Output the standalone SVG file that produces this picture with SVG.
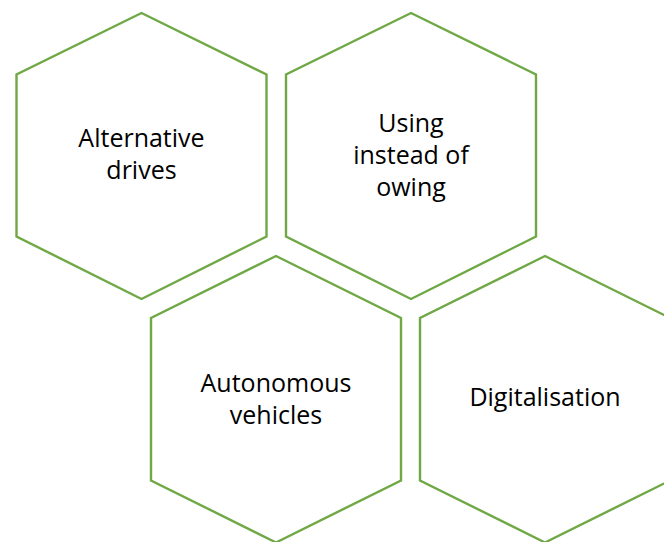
<svg xmlns="http://www.w3.org/2000/svg" width="664" height="542" viewBox="0 0 664 542">
<style>
.hex{fill:#ffffff;stroke:#6FA845;stroke-width:2.4;stroke-linejoin:miter}
.lbl{font-family:"Open Sans","Liberation Sans",sans-serif;font-size:25px;fill:#000000;text-anchor:middle}
</style>
<rect width="664" height="542" fill="#ffffff"/>
<g id="connectors"></g>
<g id="node-alternative-drives">
<polygon class="hex" points="141.5,13 266.5,74.5 266.5,236.5 141.5,299 16.5,236.5 16.5,74.5"/>
<text class="lbl" x="141.5" y="147">Alternative</text>
<text class="lbl" x="141.5" y="179">drives</text>
</g>
<g id="node-using-instead-of-owing">
<polygon class="hex" points="411,13 536,74.5 536,236.5 411,299 286,236.5 286,74.5"/>
<text class="lbl" x="411" y="132">Using</text>
<text class="lbl" x="411" y="164">instead of</text>
<text class="lbl" x="411" y="196">owing</text>
</g>
<g id="node-autonomous-vehicles">
<polygon class="hex" points="276,256 401,318 401,480.5 276,542.5 151,480.5 151,318"/>
<text class="lbl" x="276" y="391.5">Autonomous</text>
<text class="lbl" x="276" y="423.5">vehicles</text>
</g>
<g id="node-digitalisation">
<polygon class="hex" points="545,256 670,318 670,480.5 545,542.5 420,480.5 420,318"/>
<text class="lbl" x="545" y="406">Digitalisation</text>
</g>
</svg>
